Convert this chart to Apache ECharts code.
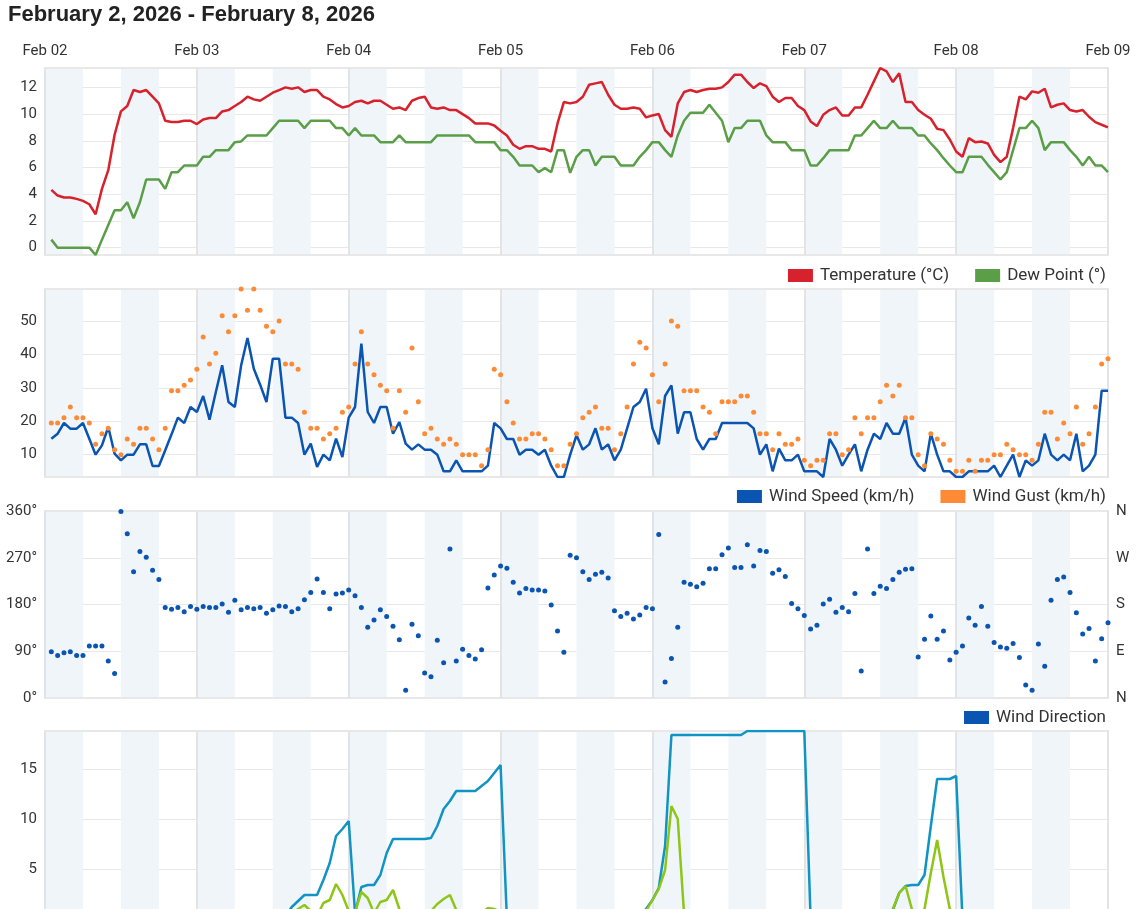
<!DOCTYPE html>
<html>
<head>
<meta charset="utf-8">
<script src="https://cdn.jsdelivr.net/npm/echarts@6/dist/echarts.min.js"></script>
<style>
  html, body { margin: 0; padding: 0; overflow: hidden; background: #fff; }
  #main { width: 1148px; height: 960px; }
</style>
</head>
<body>
<div id="main"></div>
<script>
// hourly observations, Feb 02 01:00 .. Feb 09 00:00
const dayLabels = ['Feb 02', 'Feb 03', 'Feb 04', 'Feb 05', 'Feb 06', 'Feb 07', 'Feb 08', 'Feb 09'];
const compassLabels = ['N', 'E', 'S', 'W', 'N'];

const temperature = [
  4.33, 3.9, 3.75, 3.75, 3.65, 3.5, 3.25, 2.5, 4.4, 5.8,
  8.45, 10.2, 10.6, 11.8, 11.65, 11.8, 11.3, 10.8, 9.5, 9.4,
  9.4, 9.5, 9.5, 9.25, 9.6, 9.7, 9.7, 10.2, 10.3, 10.6,
  10.9, 11.3, 11.1, 11.0, 11.3, 11.6, 11.8, 12.0, 11.9, 12.0,
  11.65, 11.8, 11.8, 11.3, 11.1, 10.75, 10.5, 10.6, 10.9, 11.0,
  10.8, 11.0, 11.0, 10.7, 10.4, 10.5, 10.3, 11.0, 11.2, 11.3,
  10.5, 10.4, 10.5, 10.3, 10.3, 10.0, 9.7, 9.3, 9.3, 9.3,
  9.15, 8.75, 8.4, 7.7, 7.4, 7.6, 7.6, 7.4, 7.4, 7.2,
  9.3, 10.9, 10.8, 10.9, 11.3, 12.2, 12.3, 12.4, 11.45, 10.7,
  10.4, 10.4, 10.5, 10.4, 9.75, 9.9, 10.0, 8.8, 8.3, 10.8,
  11.65, 11.8, 11.65, 11.8, 11.9, 11.9, 12.0, 12.4, 12.95, 12.95,
  12.4, 11.95, 12.3, 12.1, 11.3, 10.9, 11.2, 11.2, 10.6, 10.3,
  9.45, 9.1, 9.95, 10.3, 10.5, 9.9, 9.9, 10.5, 10.5, 11.45,
  12.45, 13.45, 13.2, 12.4, 13.05, 10.9, 10.9, 10.3, 9.95, 9.65,
  8.9, 8.8, 8.1, 7.2, 6.8, 8.2, 7.9, 7.95, 7.8, 6.95,
  6.4, 6.8, 8.95, 11.3, 11.1, 11.7, 11.6, 11.9, 10.5, 10.7,
  10.8, 10.3, 10.2, 10.3, 9.8, 9.4, 9.2, 9.0
];
const dewPoint = [
  0.6, 0, 0, 0, 0, 0, 0, -0.55, 0.6, 1.7,
  2.8, 2.8, 3.4, 2.2, 3.4, 5.1, 5.1, 5.1, 4.4, 5.65,
  5.65, 6.15, 6.15, 6.15, 6.8, 6.8, 7.3, 7.3, 7.3, 7.9,
  7.95, 8.4, 8.4, 8.4, 8.4, 8.95, 9.5, 9.5, 9.5, 9.5,
  8.95, 9.5, 9.5, 9.5, 9.5, 8.95, 8.95, 8.4, 8.95, 8.4,
  8.4, 8.4, 7.9, 7.9, 7.9, 8.4, 7.9, 7.9, 7.9, 7.9,
  7.9, 8.4, 8.4, 8.4, 8.4, 8.4, 8.4, 7.9, 7.9, 7.9,
  7.9, 7.3, 7.3, 6.8, 6.15, 6.15, 6.15, 5.65, 5.95, 5.65,
  7.3, 7.3, 5.6, 6.8, 7.3, 7.3, 6.15, 6.8, 6.8, 6.8,
  6.15, 6.15, 6.15, 6.8, 7.3, 7.9, 7.9, 7.3, 6.8, 8.4,
  9.5, 10.1, 10.1, 10.1, 10.7, 10.1, 9.5, 7.9, 8.95, 8.95,
  9.5, 9.5, 9.5, 8.4, 7.9, 7.9, 7.9, 7.3, 7.3, 7.3,
  6.15, 6.15, 6.7, 7.3, 7.3, 7.3, 7.3, 8.4, 8.4, 8.95,
  9.5, 8.95, 8.95, 9.5, 8.95, 8.95, 8.95, 8.4, 8.4, 7.8,
  7.3, 6.7, 6.15, 5.65, 5.65, 6.8, 6.8, 6.8, 6.2, 5.65,
  5.1, 5.65, 7.3, 8.95, 8.95, 9.5, 8.95, 7.3, 7.9, 7.9,
  7.9, 7.3, 6.8, 6.15, 6.8, 6.15, 6.15, 5.65
];
const windSpeed = [
  14.8, 16.3, 19.5, 17.8, 17.8, 19.5, 14.8, 10, 12.8, 18.3,
  10.3, 8.3, 10, 10, 13.1, 13.1, 6.6, 6.6, 11.3, 16.1,
  21.1, 19.5, 24.3, 22.8, 27.6, 20.5, 28.8, 36.8, 25.8, 24.3,
  36.8, 45, 35.8, 31, 25.8, 38.8, 38.8, 21.1, 21.1, 19.5,
  10, 13.3, 6.3, 10, 8.3, 14.8, 9.3, 21.1, 24.3, 43.3,
  22.8, 19.5, 24.3, 24.3, 16.3, 19.8, 13.3, 11.5, 13.1, 11.5,
  11.5, 10, 5, 5, 8.3, 5, 5, 5, 5, 6.7,
  19.5, 17.9, 14.7, 14.7, 10, 11.5, 11.5, 10, 11.5, 6.7,
  3.3, 3.3, 10, 15.8, 11.5, 13.1, 17.9, 11.5, 13.1, 8.3,
  11.5, 17.9, 24.3, 25.8, 29.8, 17.9, 13.1, 27.6, 30.8, 16.3,
  22.7, 22.7, 14.7, 11.5, 14.7, 14.7, 19.5, 19.5, 19.5, 19.5,
  19.5, 17.9, 10, 13.1, 5, 11.8, 8.3, 8.3, 10, 5,
  5, 5, 3.3, 14.7, 11.5, 6.7, 10, 13.1, 5, 11.5,
  16.3, 14.7, 19.5, 16.3, 16.3, 21.1, 10, 6.7, 5, 16.3,
  10, 5, 5, 3.3, 3.3, 5, 5, 5, 5, 6.7,
  3.3, 6.7, 10, 3.3, 8.3, 6.7, 8.3, 16.3, 10, 8.3,
  10, 8.3, 16.3, 5, 6.7, 10, 29.2, 29.2
];
const windGust = [
  19.5, 19.5, 21.1, 24.3, 21.1, 21.1, 19.5, 13.1, 16.3, 17.9,
  11.5, 10, 14.7, 13.1, 17.9, 17.9, 14.7, 11.5, 17.9, 29.2,
  29.2, 30.8, 32.4, 35.6, 45.3, 37.2, 40.4, 51.7, 46.9, 51.7,
  59.7, 53.3, 59.7, 53.3, 48.5, 46.9, 50.1, 37.2, 37.2, 35.6,
  22.7, 17.9, 17.9, 14.7, 16.3, 17.9, 22.7, 24.3, 37.2, 46.9,
  37.2, 34, 30.8, 29.2, 17.9, 29.2, 22.7, 42, 25.9, 16.3,
  17.9, 14.7, 13.1, 14.7, 13.1, 10, 10, 10, 6.7, 11.5,
  35.6, 34, 25.9, 19.5, 14.7, 14.7, 16.3, 16.3, 14.7, 11.5,
  6.7, 6.7, 13.1, 16.3, 21.1, 22.7, 24.3, 17.9, 17.9, 11.5,
  16.3, 24.3, 37.2, 43.7, 42, 34, 25.9, 37.2, 50.1, 48.5,
  29.2, 29.2, 29.2, 24.3, 22.7, 16.3, 25.9, 25.9, 25.9, 27.6,
  27.6, 22.7, 16.3, 16.3, 11.5, 16.3, 13.1, 13.1, 14.7, 8.3,
  6.7, 8.3, 8.3, 16.3, 16.3, 10, 11.5, 21.1, 16.3, 21.1,
  21.1, 25.9, 30.8, 27.6, 30.8, 21.1, 21.1, 10, 6.7, 16.3,
  14.7, 13.1, 8.3, 5, 5, 8.3, 5, 8.3, 8.3, 10,
  10, 13.1, 11.5, 10, 10, 8.3, 13.1, 22.7, 22.7, 14.7,
  19.5, 16.3, 24.3, 13.1, 16.3, 24.3, 37.2, 38.8
];
const windDirection = [
  89, 82, 87, 89, 82, 82, 100, 100, 100, 71,
  47, 359, 316, 243, 282, 271, 246, 228, 174, 171,
  174, 166, 176, 171, 176, 174, 174, 181, 165, 188,
  170, 174, 172, 174, 163, 170, 177, 176, 166, 172,
  189, 203, 229, 203, 172, 200, 202, 208, 197, 174,
  136, 150, 170, 157, 138, 112, 15, 142, 120, 48,
  41, 111, 68, 287, 71, 94, 82, 75, 93, 212,
  237, 254, 250, 223, 202, 211, 208, 208, 206, 179,
  129, 88, 275, 270, 243, 228, 238, 242, 231, 168,
  157, 163, 152, 160, 174, 172, 315, 31, 76, 136,
  223, 219, 214, 221, 249, 249, 276, 289, 251, 251,
  295, 254, 284, 282, 240, 247, 234, 182, 172, 159,
  133, 140, 181, 190, 165, 174, 166, 201, 52, 287,
  201, 215, 211, 228, 242, 248, 249, 79, 113, 158,
  113, 129, 73, 88, 100, 154, 140, 176, 138, 107,
  98, 96, 105, 78, 25, 15, 104, 61, 188, 228,
  233, 203, 164, 123, 134, 71, 114, 145
];
const rainDaily = [
  0, 0, 0, 0, 0, 0, 0, 0, 0, 0,
  0, 0, 0, 0, 0, 0, 0, 0, 0, 0,
  0, 0, 0, 0, 0, 0, 0, 0, 0, 0,
  0, 0, 0, 0, 0, 0, 0, 0.3, 1.2, 1.8,
  2.4, 2.4, 2.4, 3.9, 5.6, 8.3, 9.0, 9.8, 0.6, 3.2,
  3.4, 3.4, 4.4, 6.6, 8.0, 8.0, 8.0, 8.0, 8.0, 8.0,
  8.1, 9.3, 11.0, 11.8, 12.8, 12.8, 12.8, 12.8, 13.3, 13.8,
  14.6, 15.4, 0, 0, 0, 0, 0, 0, 0, 0,
  0, 0, 0, 0, 0, 0, 0, 0, 0, 0,
  0, 0, 0, 0, 1.0, 1.9, 3.1, 7.3, 18.4, 18.4,
  18.4, 18.4, 18.4, 18.4, 18.4, 18.4, 18.4, 18.4, 18.4, 18.4,
  18.8, 18.8, 18.8, 18.8, 18.8, 18.8, 18.8, 18.8, 18.8, 18.8,
  0, 0, 0, 0, 0, 0, 0, 0, 0, 0,
  0, 0, 0, 0.9, 2.6, 3.3, 3.4, 3.4, 4.4, 9.3,
  14.0, 14.0, 14.0, 14.3, 0, 0, 0, 0, 0, 0,
  0, 0, 0, 0, 0, 0, 0, 0, 0, 0,
  0, 0, 0, 0, 0, 0, 0, 0
];
const rainRate = [
  0, 0, 0, 0, 0, 0, 0, 0, 0, 0,
  0, 0, 0, 0, 0, 0, 0, 0, 0, 0,
  0, 0, 0, 0, 0, 0, 0, 0, 0, 0,
  0, 0, 0, 0, 0, 0, 0, 0, 0.5, 1.0,
  1.4, 0.8, 0.3, 1.6, 1.9, 3.5, 2.4, 0.8, 0.7, 2.7,
  2.1, 0.6, 1.7, 1.9, 2.9, 1.0, 0.3, 0.2, 0.3, 0.6,
  0.8, 1.5, 2.0, 2.4, 0.9, 0.3, 0.2, 0.3, 0.6, 1.1,
  1.0, 0.7, 0, 0, 0, 0, 0, 0, 0, 0,
  0, 0, 0, 0, 0, 0, 0, 0, 0, 0,
  0, 0, 0, 0, 0.8, 1.9, 3.0, 4.9, 11.3, 10.0,
  0.5, 0, 0, 0, 0, 0, 0, 0, 0, 0,
  0, 0, 0, 0, 0, 0, 0, 0, 0, 0,
  0, 0, 0, 0, 0, 0, 0, 0, 0, 0,
  0, 0, 0, 1.0, 2.6, 3.3, 1.0, 0.3, 1.0, 4.6,
  7.9, 4.2, 1.0, 0.3, 0, 0, 0, 0, 0, 0,
  0, 0, 0, 0, 0, 0, 0, 0, 0, 0,
  0, 0, 0, 0, 0, 0, 0, 0
];

const hours = temperature.map((_, i) => i + 1);
const pairs = arr => arr.map((v, i) => [hours[i], v]);

const FONT = 'Roboto';
const TXT = '#333';
const gridPos = [
  {top: 68, height: 187},
  {top: 289, height: 188},
  {top: 511, height: 187},
  {top: 731, height: 188}
];

const grids = gridPos.map(g => ({
  left: 45, width: 1063, top: g.top, height: g.height,
  show: true, borderColor: '#e8e8e8', borderWidth: 2, z: 1
}));

const xAxes = [];
gridPos.forEach((g, i) => {
  // day lines and labels
  xAxes.push({
    gridIndex: i, type: 'value', min: 0, max: 168, interval: 24, position: 'top', z: 1,
    axisLine: {show: false}, axisTick: {show: false},
    axisLabel: {show: i === 0, formatter: v => dayLabels[v / 24], color: TXT, fontSize: 15, fontFamily: FONT, margin: 9},
    splitLine: {show: true, lineStyle: {color: '#e4e4e4', width: 2}}
  });
  // alternating 6h shading
  xAxes.push({
    gridIndex: i, type: 'value', min: 0, max: 168, interval: 6, z: 0,
    axisLine: {show: false}, axisTick: {show: false}, axisLabel: {show: false},
    splitLine: {show: false},
    splitArea: {show: true, areaStyle: {color: ['#f0f5fa', 'rgba(255,255,255,0)']}}
  });
});

const yLabel = {color: TXT, fontSize: 15, fontFamily: FONT, margin: 8, showMinLabel: false, showMaxLabel: false};
const ySplit = {lineStyle: {color: '#e8e8e8', width: 1}};
const yAxes = [
  {gridIndex: 0, type: 'value', min: -0.55, max: 13.45, minInterval: 2, maxInterval: 2,
    axisLabel: yLabel, splitLine: ySplit, axisLine: {show: false}, axisTick: {show: false}},
  {gridIndex: 1, type: 'value', min: 3.3, max: 59.7, minInterval: 10, maxInterval: 10,
    axisLabel: yLabel, splitLine: ySplit, axisLine: {show: false}, axisTick: {show: false}},
  {gridIndex: 2, type: 'value', min: 0, max: 360, interval: 90,
    axisLabel: {color: TXT, fontSize: 15, fontFamily: FONT, margin: 8, formatter: '{value}°'},
    splitLine: ySplit, axisLine: {show: false}, axisTick: {show: false}},
  {gridIndex: 2, type: 'value', position: 'right', min: 0, max: 360, interval: 90,
    axisLabel: {color: TXT, fontSize: 15, fontFamily: FONT, margin: 8, formatter: v => compassLabels[v / 90]},
    splitLine: {show: false}, axisLine: {show: false}, axisTick: {show: false}},
  {gridIndex: 3, type: 'value', min: 0, max: 18.8, interval: 5,
    axisLabel: Object.assign({}, yLabel, {showMinLabel: true}), splitLine: ySplit, axisLine: {show: false}, axisTick: {show: false}}
];

const legendBase = {
  right: 42, orient: 'horizontal', icon: 'rect', itemWidth: 25, itemHeight: 13, itemGap: 26, padding: 0,
  textStyle: {color: TXT, fontSize: 17, fontFamily: FONT, padding: [0, 0, 0, 2]}, selectedMode: false
};

const lineSeries = (name, data, color, xi, yi) => ({
  name, type: 'line', data: pairs(data), xAxisIndex: xi, yAxisIndex: yi,
  showSymbol: false, symbol: 'none', color, lineStyle: {color, width: 2.5}, z: 3
});
const dotSeries = (name, data, color, xi, yi) => ({
  name, type: 'scatter', data: pairs(data), xAxisIndex: xi, yAxisIndex: yi,
  symbol: 'circle', symbolSize: 5, color, itemStyle: {color, opacity: 1}, z: 3
});

const chart = echarts.init(document.getElementById('main'), null, {renderer: 'canvas'});
chart.setOption({
  animation: false,
  backgroundColor: '#fff',
  title: {
    text: 'February 2, 2026 - February 8, 2026', left: 8, top: 4, padding: 0,
    textStyle: {fontSize: 22, fontWeight: 'bold', color: '#222', fontFamily: 'Liberation Sans'}
  },
  grid: grids,
  xAxis: xAxes,
  yAxis: yAxes,
  legend: [
    Object.assign({}, legendBase, {top: 267, data: ['Temperature (°C)', 'Dew Point (°)']}),
    Object.assign({}, legendBase, {top: 488, data: ['Wind Speed (km/h)', 'Wind Gust (km/h)']}),
    Object.assign({}, legendBase, {top: 709, data: ['Wind Direction']}),
    Object.assign({}, legendBase, {top: 930, data: ['Daily Rain (mm)', 'Rain Rate (mm/h)']})
  ],
  series: [
    lineSeries('Temperature (°C)', temperature, '#d7212c', 0, 0),
    lineSeries('Dew Point (°)', dewPoint, '#5a9e47', 0, 0),
    lineSeries('Wind Speed (km/h)', windSpeed, '#0a54b2', 2, 1),
    dotSeries('Wind Gust (km/h)', windGust, '#fd8b36', 2, 1),
    dotSeries('Wind Direction', windDirection, '#0a54b2', 4, 2),
    lineSeries('Daily Rain (mm)', rainDaily, '#1193c3', 6, 4),
    lineSeries('Rain Rate (mm/h)', rainRate, '#8dc616', 6, 4)
  ]
});
</script>
</body>
</html>
